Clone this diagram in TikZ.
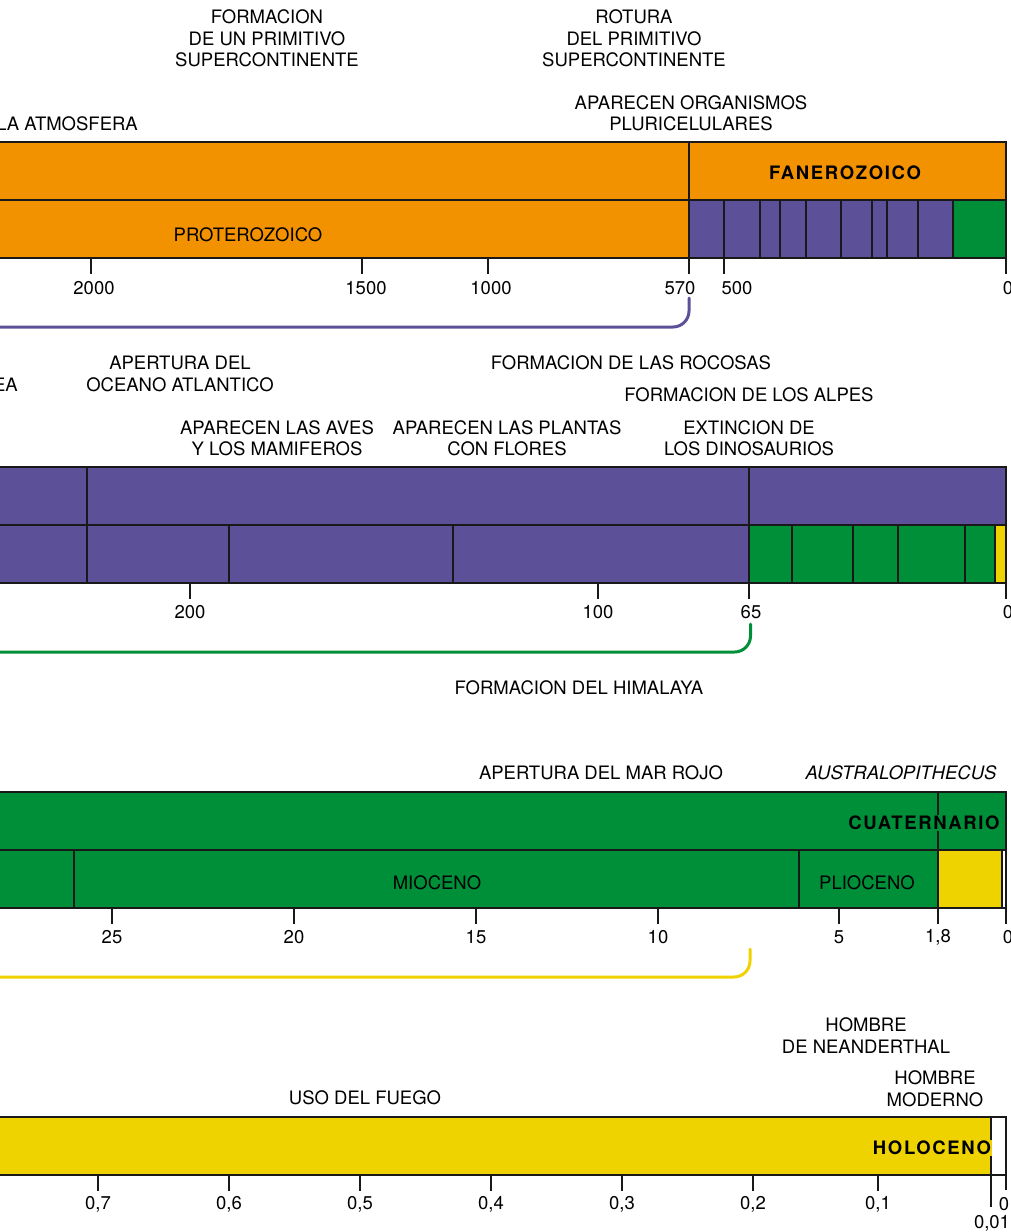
\documentclass[tikz,border=0pt]{standalone}
\usepackage{fontspec}
\setmainfont{TeX Gyre Heros}
\usetikzlibrary{positioning}
\definecolor{eraorange}{HTML}{F29200}
\definecolor{erapurple}{HTML}{5C5098}
\definecolor{eragreen}{HTML}{008F39}
\definecolor{erayellow}{HTML}{EFD300}
\tikzset{
  event/.style={align=center, inner sep=0pt, font={\fontsize{18.5}{21.5}\selectfont}},
  era label/.style={inner sep=0pt, font={\fontsize{18.5}{21.5}\selectfont}},
  big label/.style={inner sep=1pt, font={\fontsize{18.5}{21.5}\selectfont\bfseries\addfontfeature{LetterSpace=9}}},
  tick label/.style={inner sep=0pt, font={\fontsize{18.5}{21.5}\selectfont}},
  cell/.style={draw=black!90, line width=1.6pt},
  link/.style={line width=3pt, rounded corners=16pt, line cap=round},
}

\begin{document}
\begin{tikzpicture}[x=1pt,y=-1pt]
\useasboundingbox (0,0) rectangle (1011,1232);
% first bar: precambrico and fanerozoico
\fill[eraorange] (-20,142) rectangle (1006,258);
\fill[erapurple] (689,200) rectangle (953,258);
\fill[eragreen] (953,200) rectangle (1006,258);
\draw[cell] (-20,142) rectangle (1006,258);
\draw[cell] (-20,200) -- (1006,200);
\draw[cell] (689,142) -- (689,258);
\foreach \x in {724,760,780,806,841,872,887,918,953} \draw[cell] (\x,200) -- (\x,258);
\foreach \x/\lx/\t [count=\i] in {91/94/2000,362/366/1500,488/491/1000,689/680/570,724/737/500,1006/1008/0} {
  \draw[cell] (\x,258) -- (\x,274);
  \node[tick label] (tickA\i) at (\lx,288) {\t};
}
% second bar: mesozoico and cenozoico
\fill[erapurple] (-20,467) rectangle (1006,583);
\fill[eragreen] (749,525) rectangle (995,583);
\fill[erayellow] (995,525) rectangle (1006,583);
\draw[cell] (-20,467) rectangle (1006,583);
\draw[cell] (-20,525) -- (1006,525);
\foreach \x in {87,749} \draw[cell] (\x,467) -- (\x,583);
\foreach \x in {229,453,792,853,898,965,995} \draw[cell] (\x,525) -- (\x,583);
\foreach \x/\lx/\t [count=\i] in {190/190/200,598/598/100,749/751/65,1006/1008/0} {
  \draw[cell] (\x,583) -- (\x,599);
  \node[tick label] (tickB\i) at (\lx,612) {\t};
}
% third bar: terciario and cuaternario
\fill[eragreen] (-20,792) rectangle (1006,908);
\fill[erayellow] (938,850) rectangle (1002,908);
\fill[white] (1002,850) rectangle (1006,908);
\draw[cell] (-20,792) rectangle (1006,908);
\draw[cell] (-20,850) -- (1006,850);
\draw[cell] (938,792) -- (938,908);
\foreach \x in {74,799,1002} \draw[cell] (\x,850) -- (\x,908);
\foreach \x/\lx/\t [count=\i] in {112/112/25,294/294/20,476/476/15,658/658/10,839/839/5,938/938/{1,8},1006/1008/0} {
  \draw[cell] (\x,908) -- (\x,924);
  \node[tick label] (tickC\i) at (\lx,937) {\t};
}
% fourth bar: pleistoceno and holoceno
\fill[erayellow] (-20,1117) rectangle (991,1175);
\draw[cell] (-20,1117) rectangle (1006,1175);
\draw[cell] (991,1117) -- (991,1175);
\foreach \x/\t [count=\i] in {98/{0,7},229/{0,6},360/{0,5},491/{0,4},622/{0,3},753/{0,2},878/{0,1}} {
  \draw[cell] (\x,1175) -- (\x,1191);
  \node[tick label] (tickD\i) at (\x,1204) {\t};
}
\draw[cell] (991,1175) -- (991,1207);
\draw[cell] (1006,1175) -- (1006,1190);
\node[tick label] (tickDa) at (992,1223) {0,01};
\node[tick label] (tickDb) at (1004,1204) {0};

% the nodes
\node[event] (evFormacion) at (267,38.5) {FORMACION\\DE UN PRIMITIVO\\SUPERCONTINENTE};
\node[event] (evRotura) at (634,38.5) {ROTURA\\DEL PRIMITIVO\\SUPERCONTINENTE};
\node[event, anchor=east] (evAtmosfera) at (138,124) {LA ATMOSFERA};
\node[event] (evPluricelulares) at (691,113.5) {APARECEN ORGANISMOS\\PLURICELULARES};
\node[big label] (eraFanerozoico) at (845,173) {FANEROZOICO};
\node[era label] (eraProterozoico) at (248,234.5) {PROTEROZOICO};

\node[event, anchor=east] (evPangea) at (18,385) {EA};
\node[event] (evAtlantico) at (180,374) {APERTURA DEL\\OCEANO ATLANTICO};
\node[event] (evRocosas) at (631,363) {FORMACION DE LAS ROCOSAS};
\node[event] (evAlpes) at (749,395) {FORMACION DE LOS ALPES};
\node[event] (evAves) at (277,438) {APARECEN LAS AVES\\Y LOS MAMIFEROS};
\node[event] (evPlantas) at (507,438) {APARECEN LAS PLANTAS\\CON FLORES};
\node[event] (evDinosaurios) at (749,438) {EXTINCION DE\\LOS DINOSAURIOS};
\node[event] (evHimalaya) at (579,688) {FORMACION DEL HIMALAYA};

\node[event] (evMarRojo) at (601,773) {APERTURA DEL MAR ROJO};
\node[event, font={\fontsize{18.5}{21.5}\selectfont\itshape}] (evAustralopithecus) at (901,773) {AUSTRALOPITHECUS};
\node[big label, fill=eragreen] (eraCuaternario) at (924,823) {CUATERNARIO};
\node[era label] (eraMioceno) at (437,883) {MIOCENO};
\node[era label] (eraPlioceno) at (867,883) {PLIOCENO};

\node[event] (evNeanderthal) at (866,1035.5) {HOMBRE\\DE NEANDERTHAL};
\node[event] (evModerno) at (935,1088.5) {HOMBRE\\MODERNO};
\node[event] (evFuego) at (365,1098) {USO DEL FUEGO};
\node[big label, fill=erayellow] (eraHoloceno) at (932,1148) {HOLOCENO};

% links between the bars
\coordinate (linkAtop) at (689,298);
\coordinate (linkAend) at (-10,327);
\coordinate (linkBtop) at (750.5,624);
\coordinate (linkBend) at (-10,652);
\coordinate (linkCtop) at (750,949);
\coordinate (linkCend) at (-10,977);
\draw[link, erapurple] (linkAtop) |- (linkAend);
\draw[link, eragreen] (linkBtop) |- (linkBend);
\draw[link, erayellow] (linkCtop) |- (linkCend);
\end{tikzpicture}
\end{document}
